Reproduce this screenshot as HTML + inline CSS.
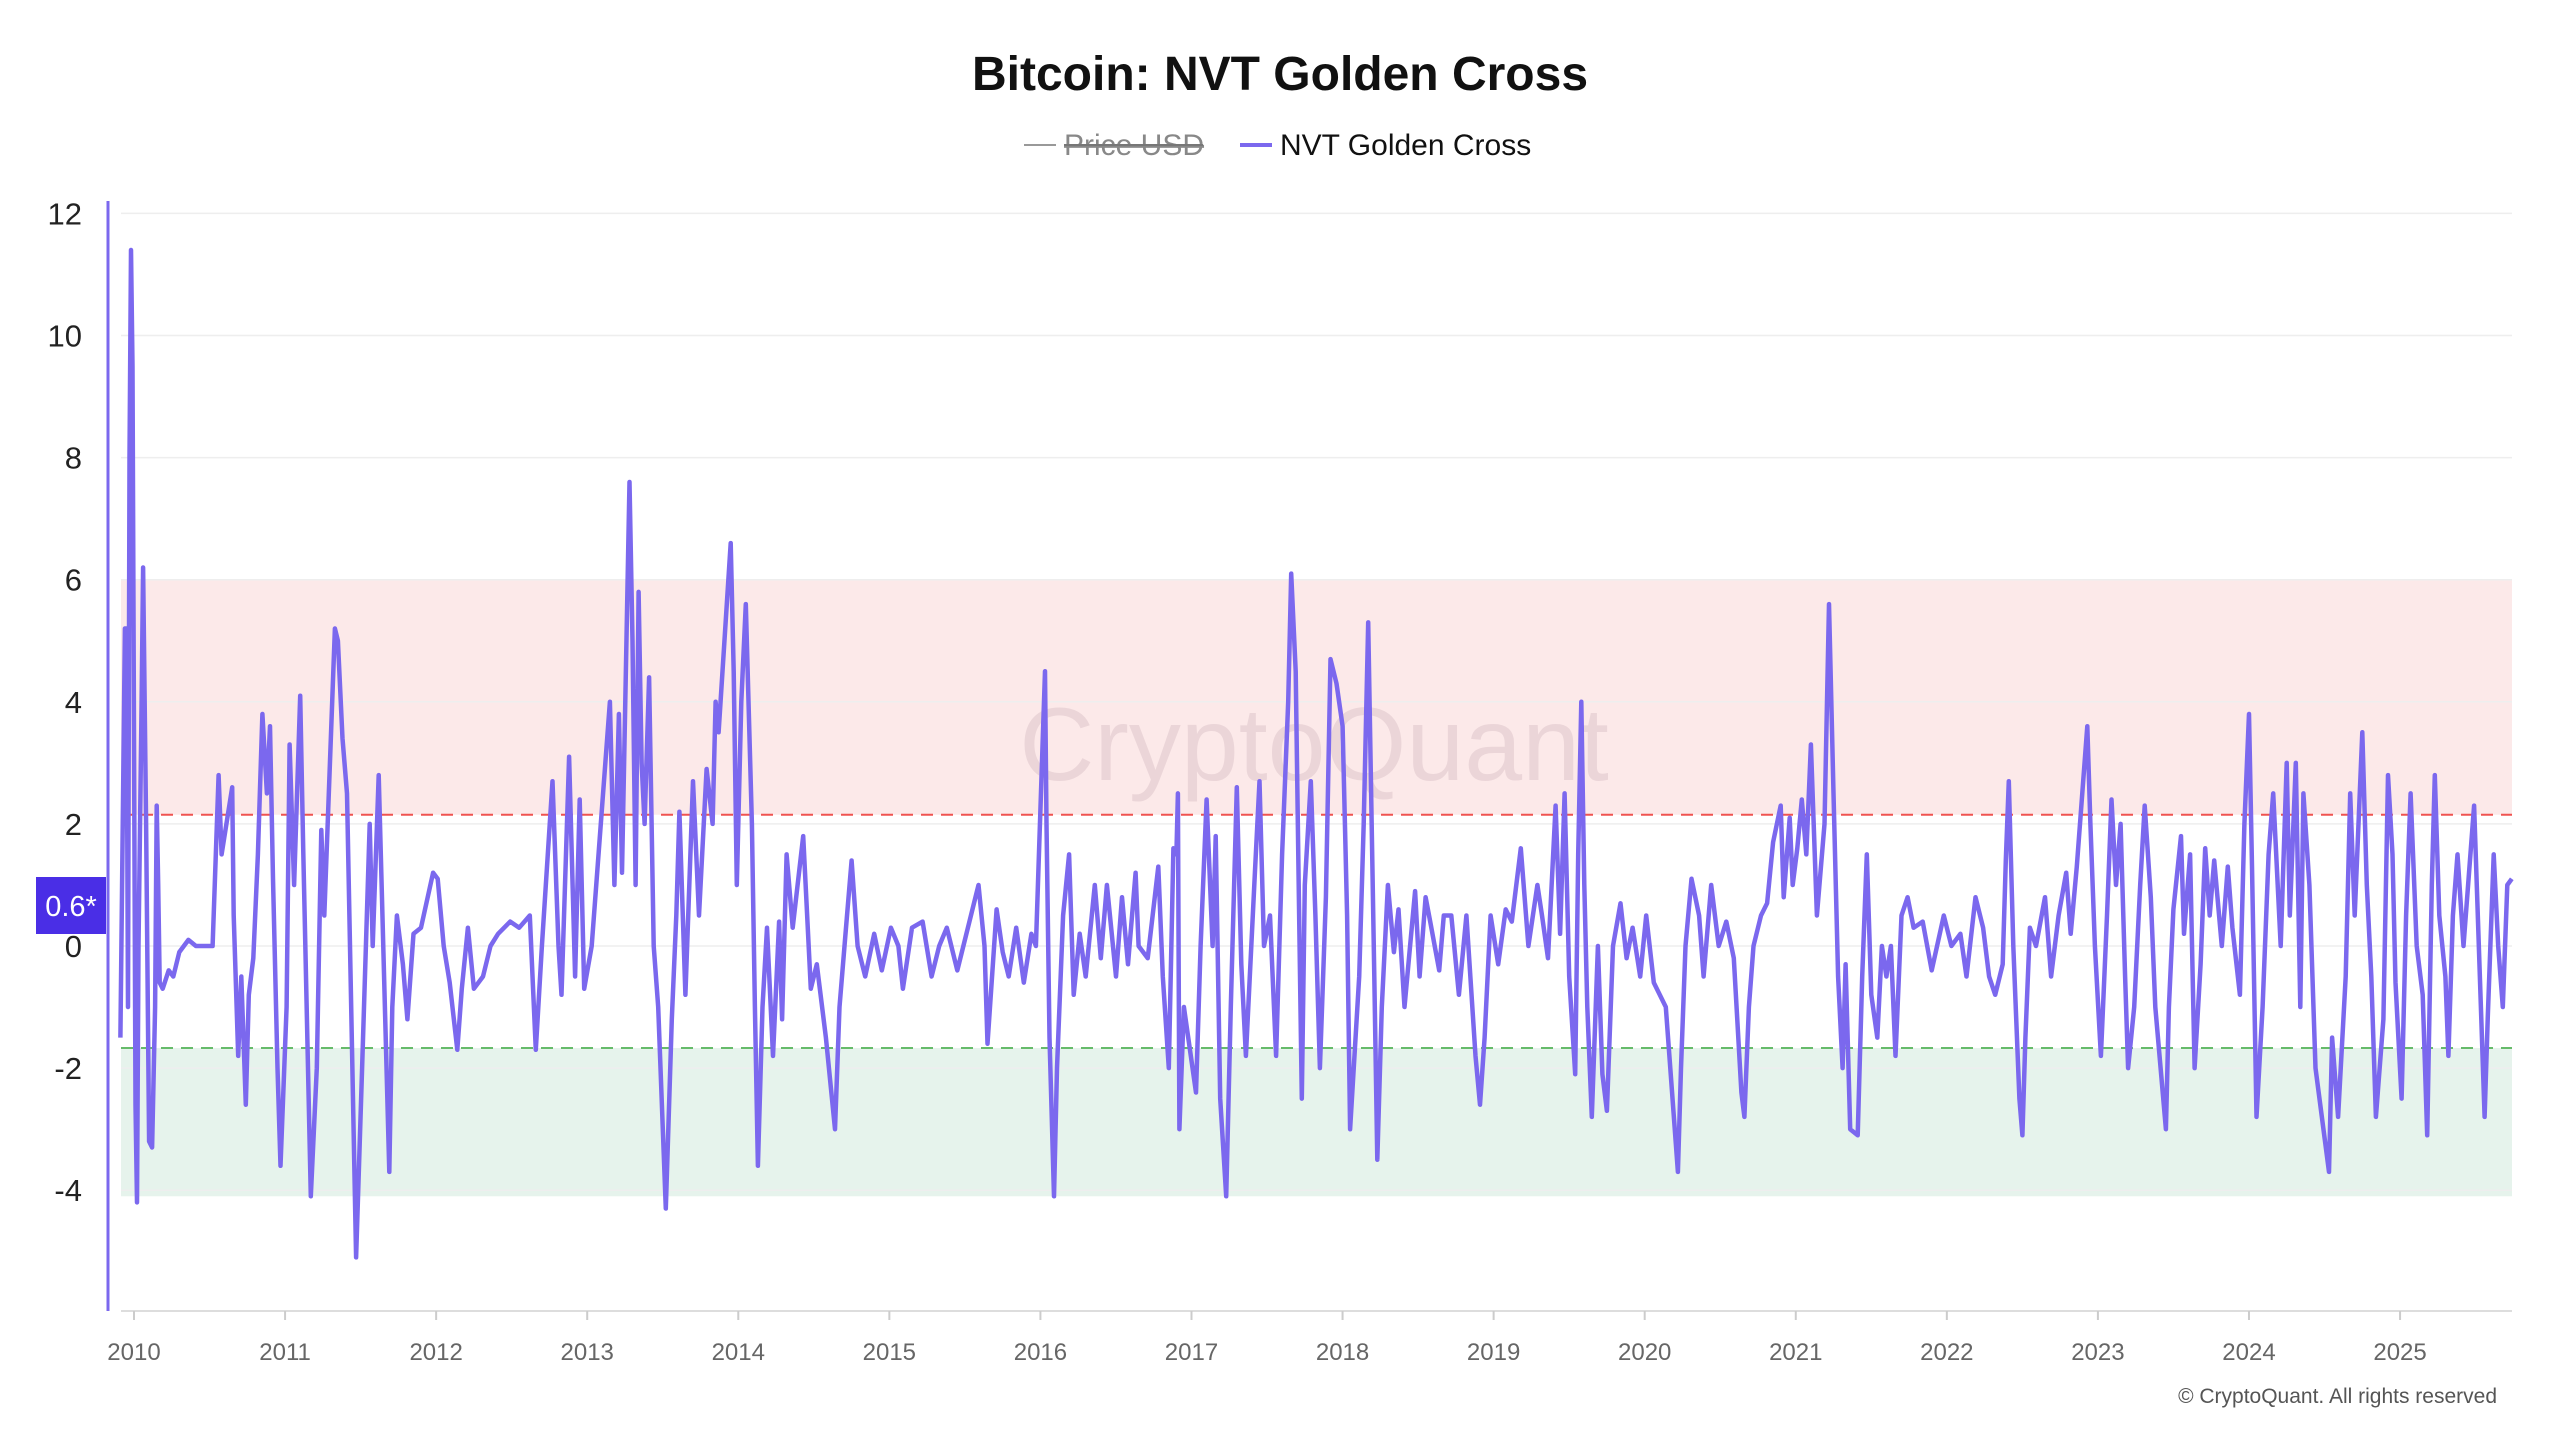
<!DOCTYPE html>
<html><head><meta charset="utf-8"><style>
html,body{margin:0;padding:0;background:#fff;}
svg{display:block;font-family:"Liberation Sans",sans-serif;}
</style></head><body>
<svg id="chart" width="2560" height="1440" viewBox="0 0 2560 1440">
<text x="1280" y="90" text-anchor="middle" font-size="48" font-weight="bold" fill="#111">Bitcoin: NVT Golden Cross</text>
<g>
 <g>
  <line x1="1024" y1="145" x2="1056" y2="145" stroke="#999" stroke-width="2"/>
  <text x="1064" y="155" font-size="30" fill="#888" text-decoration="line-through">Price USD</text>
  <line x1="1064" y1="145" x2="1203" y2="145" stroke="#777" stroke-width="2"/>
 </g>
 <g>
  <line x1="1240" y1="145" x2="1272" y2="145" stroke="#7b68ee" stroke-width="4"/>
  <text x="1280" y="155" font-size="30" fill="#111">NVT Golden Cross</text>
 </g>
</g>
<g id="bands"></g>
<g id="grid"></g>
<text x="1314" y="780" text-anchor="middle" font-size="104" fill="rgba(150,110,130,0.16)">CryptoQuant</text>
<g id="refs"></g>
<g id="yaxis"></g>
<g id="xaxis"></g>
<path id="series" fill="none" stroke="#7b68ee" stroke-width="4.5" stroke-linejoin="round"/>
<line x1="108" y1="201" x2="108" y2="1311" stroke="#7b68ee" stroke-width="3"/>
<rect x="36" y="877" width="70" height="57" fill="#4a2ee6"/>
<text x="71" y="916" text-anchor="middle" font-size="29" fill="#fff">0.6*</text>
<text x="2497" y="1403" text-anchor="end" font-size="21" fill="#555">© CryptoQuant. All rights reserved</text>
</svg>
<script>
const yTicks=[12,10,8,6,4,2,0,-2,-4];
const xTicks=[2010,2011,2012,2013,2014,2015,2016,2017,2018,2019,2020,2021,2022,2023,2024,2025];
const redBand=[2.15,6];
const greenBand=[-4.1,-1.67];
const dates=[2009.91,2009.94,2009.95,2009.96,2009.97,2009.98,2009.99,2010.01,2010.02,2010.03,2010.05,2010.06,2010.08,2010.10,2010.12,2010.14,2010.15,2010.16,2010.17,2010.19,2010.23,2010.26,2010.30,2010.36,2010.41,2010.52,2010.56,2010.58,2010.65,2010.66,2010.69,2010.71,2010.74,2010.76,2010.79,2010.82,2010.85,2010.88,2010.90,2010.92,2010.95,2010.97,2011.01,2011.03,2011.06,2011.10,2011.12,2011.17,2011.21,2011.24,2011.26,2011.33,2011.35,2011.38,2011.41,2011.47,2011.51,2011.56,2011.58,2011.62,2011.69,2011.71,2011.74,2011.78,2011.81,2011.85,2011.90,2011.98,2012.01,2012.05,2012.09,2012.14,2012.17,2012.21,2012.25,2012.31,2012.36,2012.41,2012.49,2012.55,2012.62,2012.66,2012.70,2012.77,2012.81,2012.83,2012.88,2012.92,2012.95,2012.98,2013.03,2013.15,2013.18,2013.21,2013.23,2013.28,2013.30,2013.32,2013.34,2013.36,2013.38,2013.41,2013.44,2013.47,2013.52,2013.56,2013.59,2013.61,2013.65,2013.70,2013.74,2013.79,2013.83,2013.85,2013.87,2013.95,2013.97,2013.99,2014.02,2014.05,2014.09,2014.11,2014.13,2014.16,2014.19,2014.23,2014.27,2014.29,2014.32,2014.36,2014.43,2014.48,2014.52,2014.58,2014.64,2014.67,2014.71,2014.75,2014.79,2014.84,2014.90,2014.95,2015.01,2015.06,2015.09,2015.15,2015.22,2015.28,2015.33,2015.38,2015.45,2015.51,2015.59,2015.63,2015.65,2015.71,2015.75,2015.79,2015.84,2015.89,2015.94,2015.97,2016.03,2016.04,2016.06,2016.09,2016.11,2016.15,2016.19,2016.22,2016.26,2016.30,2016.36,2016.40,2016.44,2016.50,2016.54,2016.58,2016.63,2016.65,2016.71,2016.78,2016.81,2016.85,2016.88,2016.90,2016.91,2016.92,2016.95,2017.03,2017.06,2017.10,2017.14,2017.16,2017.19,2017.23,2017.26,2017.30,2017.33,2017.36,2017.42,2017.45,2017.48,2017.52,2017.56,2017.60,2017.64,2017.66,2017.69,2017.71,2017.73,2017.75,2017.79,2017.82,2017.85,2017.89,2017.92,2017.96,2018.00,2018.03,2018.05,2018.11,2018.14,2018.17,2018.21,2018.23,2018.26,2018.30,2018.34,2018.37,2018.41,2018.48,2018.51,2018.55,2018.58,2018.64,2018.67,2018.72,2018.77,2018.82,2018.88,2018.91,2018.94,2018.98,2019.03,2019.08,2019.12,2019.18,2019.23,2019.29,2019.32,2019.36,2019.41,2019.44,2019.47,2019.50,2019.54,2019.56,2019.58,2019.60,2019.62,2019.65,2019.69,2019.72,2019.75,2019.79,2019.84,2019.88,2019.92,2019.97,2020.01,2020.06,2020.14,2020.22,2020.24,2020.27,2020.31,2020.36,2020.39,2020.44,2020.49,2020.54,2020.59,2020.64,2020.66,2020.69,2020.72,2020.77,2020.81,2020.85,2020.90,2020.92,2020.96,2020.98,2021.01,2021.04,2021.07,2021.10,2021.14,2021.19,2021.22,2021.25,2021.28,2021.31,2021.33,2021.36,2021.41,2021.44,2021.47,2021.50,2021.54,2021.57,2021.60,2021.63,2021.66,2021.70,2021.74,2021.78,2021.84,2021.90,2021.98,2022.03,2022.09,2022.13,2022.19,2022.24,2022.28,2022.32,2022.37,2022.39,2022.41,2022.44,2022.48,2022.50,2022.52,2022.55,2022.59,2022.65,2022.69,2022.74,2022.79,2022.82,2022.86,2022.93,2022.95,2022.98,2023.02,2023.06,2023.09,2023.12,2023.15,2023.18,2023.20,2023.24,2023.28,2023.31,2023.35,2023.38,2023.45,2023.47,2023.50,2023.55,2023.57,2023.61,2023.64,2023.68,2023.71,2023.74,2023.77,2023.82,2023.86,2023.89,2023.94,2023.97,2024.00,2024.02,2024.05,2024.09,2024.13,2024.16,2024.21,2024.25,2024.27,2024.31,2024.34,2024.36,2024.40,2024.44,2024.53,2024.55,2024.59,2024.64,2024.67,2024.70,2024.75,2024.78,2024.81,2024.84,2024.89,2024.92,2024.95,2024.97,2025.01,2025.04,2025.07,2025.11,2025.15,2025.18,2025.21,2025.23,2025.26,2025.30,2025.32,2025.35,2025.38,2025.42,2025.49,2025.56,2025.58,2025.62,2025.65,2025.68,2025.71,2025.74];
const values=[-1.5,5.2,5.2,-1,8,11.4,9.5,-2.6,-4.2,0,4,6.2,2,-3.2,-3.3,-1,2.3,1,-0.6,-0.7,-0.4,-0.5,-0.1,0.1,0,0,2.8,1.5,2.6,0.5,-1.8,-0.5,-2.6,-0.8,-0.2,1.5,3.8,2.5,3.6,1.1,-2,-3.6,-1,3.3,1,4.1,1.6,-4.1,-2,1.9,0.5,5.2,5,3.4,2.5,-5.1,-2,2,0,2.8,-3.7,-1,0.5,-0.3,-1.2,0.2,0.3,1.2,1.1,0,-0.6,-1.7,-0.7,0.3,-0.7,-0.5,0,0.2,0.4,0.3,0.5,-1.7,0,2.7,0,-0.8,3.1,-0.5,2.4,-0.7,0,4,1,3.8,1.2,7.6,5,1,5.8,3,2,4.4,0,-1,-4.3,-1.2,0.5,2.2,-0.8,2.7,0.5,2.9,2,4,3.5,6.6,4.5,1,4,5.6,2,-1,-3.6,-1,0.3,-1.8,0.4,-1.2,1.5,0.3,1.8,-0.7,-0.3,-1.5,-3,-1,0.2,1.4,0,-0.5,0.2,-0.4,0.3,0,-0.7,0.3,0.4,-0.5,0,0.3,-0.4,0.2,1,0,-1.6,0.6,-0.1,-0.5,0.3,-0.6,0.2,0,4.5,2,-1.5,-4.1,-2,0.5,1.5,-0.8,0.2,-0.5,1,-0.2,1,-0.5,0.8,-0.3,1.2,0,-0.2,1.3,-0.5,-2,1.6,1.5,2.5,-3,-1,-2.4,0,2.4,0,1.8,-2.5,-4.1,-1,2.6,-0.3,-1.8,1.2,2.7,0,0.5,-1.8,1.5,4,6.1,4.5,1,-2.5,1,2.7,0.5,-2,0.8,4.7,4.3,3.6,0.5,-3,-0.5,2,5.3,-0.5,-3.5,-1,1,-0.1,0.6,-1,0.9,-0.5,0.8,0.4,-0.4,0.5,0.5,-0.8,0.5,-1.8,-2.6,-1.5,0.5,-0.3,0.6,0.4,1.6,0,1,0.5,-0.2,2.3,0.2,2.5,-0.5,-2.1,1.5,4,1,-1,-2.8,0,-2.1,-2.7,0,0.7,-0.2,0.3,-0.5,0.5,-0.6,-1,-3.7,-2,0,1.1,0.5,-0.5,1,0,0.4,-0.2,-2.4,-2.8,-1,0,0.5,0.7,1.7,2.3,0.8,2.1,1,1.6,2.4,1.5,3.3,0.5,2,5.6,2.5,-0.5,-2,-0.3,-3,-3.1,-0.5,1.5,-0.8,-1.5,0,-0.5,0,-1.8,0.5,0.8,0.3,0.4,-0.4,0.5,0,0.2,-0.5,0.8,0.3,-0.5,-0.8,-0.3,1.4,2.7,0,-2.5,-3.1,-1.5,0.3,0,0.8,-0.5,0.5,1.2,0.2,1.3,3.6,2,0,-1.8,0.5,2.4,1,2,-0.5,-2,-1,1,2.3,0.8,-1,-3,-1,0.6,1.8,0.2,1.5,-2,-0.3,1.6,0.5,1.4,0,1.3,0.3,-0.8,2,3.8,1.3,-2.8,-1,1.5,2.5,0,3,0.5,3,-1,2.5,1,-2,-3.7,-1.5,-2.8,-0.5,2.5,0.5,3.5,1,-0.5,-2.8,-1.2,2.8,1.5,-0.6,-2.5,0.5,2.5,0,-0.8,-3.1,1,2.8,0.5,-0.5,-1.8,0.5,1.5,0,2.3,-2.8,-1.2,1.5,0,-1,1,1.1];
const NS='http://www.w3.org/2000/svg';
const X0=121,X1=2512;
function xs(yr){return 134+(yr-2010)*151.07;}
function ys(v){return 946-v*61.05;}
const bands=document.getElementById('bands');
let r=document.createElementNS(NS,'rect');


r.setAttribute('x',X0);r.setAttribute('width',X1-X0);r.setAttribute('y',ys(redBand[1]));r.setAttribute('height',ys(redBand[0])-ys(redBand[1]));r.setAttribute('fill','#fce9e9');
bands.appendChild(r);
r=document.createElementNS(NS,'rect');


r.setAttribute('x',X0);r.setAttribute('width',X1-X0);r.setAttribute('y',ys(greenBand[1]));r.setAttribute('height',ys(greenBand[0])-ys(greenBand[1]));r.setAttribute('fill','#e6f3ec');
bands.appendChild(r);
const grid=document.getElementById('grid'),yax=document.getElementById('yaxis');
yTicks.forEach(t=>{
 const l=document.createElementNS(NS,'line');
 
 
 l.setAttribute('x1',X0);l.setAttribute('x2',X1);l.setAttribute('y1',ys(t));l.setAttribute('y2',ys(t));l.setAttribute('stroke','#eeeeee');l.setAttribute('stroke-width','1.5');
 grid.appendChild(l);
 const tx=document.createElementNS(NS,'text');
 
 
 tx.setAttribute('x',82);tx.setAttribute('y',ys(t)+11);tx.setAttribute('text-anchor','end');tx.setAttribute('font-size','31');tx.setAttribute('fill','#222');
 tx.textContent=t;yax.appendChild(tx);
});
const refs=document.getElementById('refs');
[[redBand[0],'#ef5350','overvalued-threshold-line'],[greenBand[1],'#66bb6a','undervalued-threshold-line']].forEach(a=>{
 const l=document.createElementNS(NS,'line');
 
 
 l.setAttribute('x1',X0);l.setAttribute('x2',X1);l.setAttribute('y1',ys(a[0]));l.setAttribute('y2',ys(a[0]));l.setAttribute('stroke',a[1]);l.setAttribute('stroke-width','2');l.setAttribute('stroke-dasharray','12 8');
 refs.appendChild(l);
});
const xax=document.getElementById('xaxis');
const bl=document.createElementNS(NS,'line');


bl.setAttribute('x1',X0);bl.setAttribute('x2',X1);bl.setAttribute('y1',1311);bl.setAttribute('y2',1311);bl.setAttribute('stroke','#dddddd');bl.setAttribute('stroke-width','2');
xax.appendChild(bl);
xTicks.forEach(t=>{
 const tk=document.createElementNS(NS,'line');
 
 
 tk.setAttribute('x1',xs(t));tk.setAttribute('x2',xs(t));tk.setAttribute('y1',1311);tk.setAttribute('y2',1320);tk.setAttribute('stroke','#ccc');tk.setAttribute('stroke-width','2');
 xax.appendChild(tk);
 const tx=document.createElementNS(NS,'text');
 
 
 tx.setAttribute('x',xs(t));tx.setAttribute('y',1360);tx.setAttribute('text-anchor','middle');tx.setAttribute('font-size','24');tx.setAttribute('fill','#666');
 tx.textContent=t;xax.appendChild(tx);
});
let d='';
for(let i=0;i<dates.length;i++){d+=(i?'L':'M')+xs(dates[i]).toFixed(1)+' '+ys(values[i]).toFixed(1);}
document.getElementById('series').setAttribute('d',d);
</script>
</body></html>
